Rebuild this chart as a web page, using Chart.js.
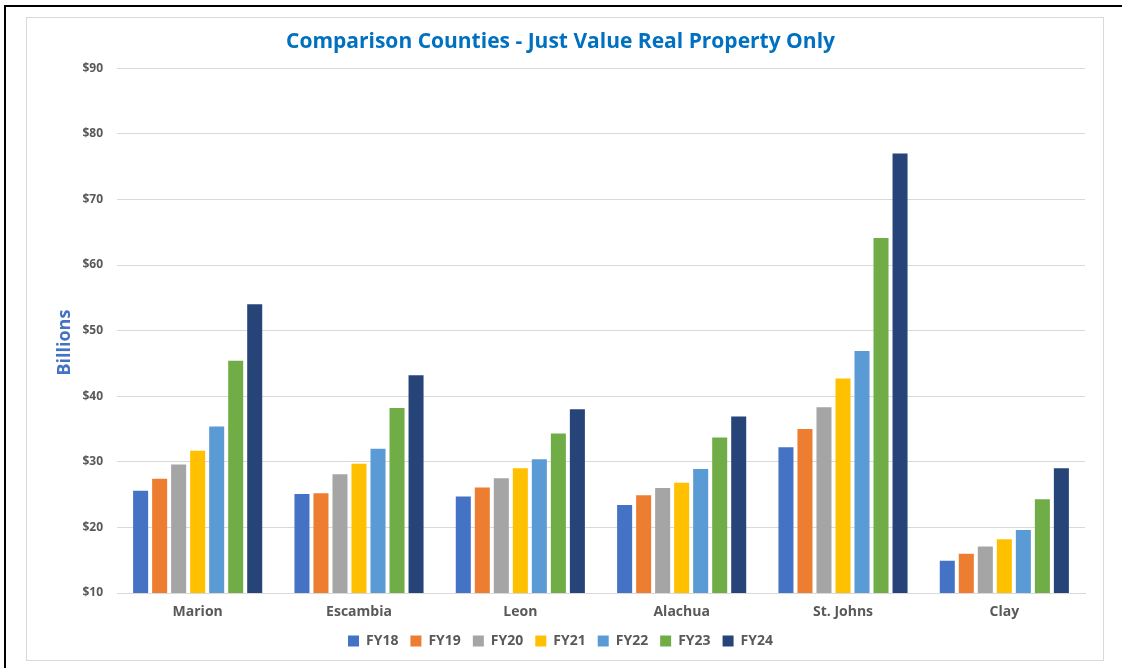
<!DOCTYPE html>
<html>
<head>
<meta charset="utf-8">
<script src="https://cdn.jsdelivr.net/npm/chart.js@4"></script>
<style>
  html, body { margin: 0; padding: 0; background: #fff; }
  .frame {
    position: absolute; left: 4px; top: 5px; width: 1140px; height: 690px;
    border: 2px solid #000; box-sizing: border-box;
  }
  .card {
    position: absolute; left: 26px; top: 17px; width: 1078px; height: 644px;
    border: 1px solid #d9d9d9; box-sizing: border-box; background: #fff;
  }
  .card canvas { display: block; }
</style>
</head>
<body>
<div class="frame"></div>
<div class="card"><canvas id="jv" width="1076" height="642"></canvas></div>
<script>
// Just value, real property only (billions of dollars)
const counties = ["Marion", "Escambia", "Leon", "Alachua", "St. Johns", "Clay"];
const years = ["FY18", "FY19", "FY20", "FY21", "FY22", "FY23", "FY24"];

const fy18 = [25.6, 25.1, 24.7, 23.4, 32.2, 14.9];
const fy19 = [27.4, 25.2, 26.1, 24.9, 35.0, 16.0];
const fy20 = [29.6, 28.1, 27.5, 26.0, 38.3, 17.1];
const fy21 = [31.7, 29.7, 29.0, 26.8, 42.7, 18.2];
const fy22 = [35.4, 32.0, 30.4, 28.9, 46.9, 19.6];
const fy23 = [45.4, 38.2, 34.3, 33.7, 64.1, 24.3];
const fy24 = [54.0, 43.2, 38.0, 36.9, 77.0, 29.0];

const yTicks = [10, 20, 30, 40, 50, 60, 70, 80, 90];

const COLORS = ["#4472C4", "#ED7D31", "#A5A5A5", "#FFC000", "#5B9BD5", "#70AD47", "#264478"];
const GRID = "#d9d9d9";
const LABEL = "#595959";
const FONT = "'Open Sans', 'DejaVu Sans', sans-serif";

const series = [fy18, fy19, fy20, fy21, fy22, fy23, fy24];

// axis caption sits a little below the middle of the value axis
const yCaption = {
  id: "yCaption",
  afterDraw(chart) {
    const y = chart.scales.y;
    const ctx = chart.ctx;
    ctx.save();
    ctx.translate(y.left + 29, (y.top + y.bottom) / 2 + 12);
    ctx.rotate(-Math.PI / 2);
    ctx.fillStyle = "#4472C4";
    ctx.font = "bold 18px " + FONT;
    ctx.textAlign = "center";
    ctx.textBaseline = "middle";
    ctx.fillText("Billions", 0, 0);
    ctx.restore();
  },
};

new Chart(document.getElementById("jv"), {
  type: "bar",
  data: {
    labels: counties,
    datasets: series.map((data, i) => ({
      label: years[i],
      data,
      backgroundColor: COLORS[i],
      borderWidth: 0,
      categoryPercentage: 0.825,
      barPercentage: 0.79,
    })),
  },
  plugins: [yCaption],
  options: {
    responsive: false,
    animation: false,
    layout: { padding: { left: 9, right: 18, top: 0, bottom: 2 } },
    plugins: {
      title: {
        display: true,
        text: "Comparison Counties - Just Value Real Property Only",
        color: "#0070C0",
        font: { family: FONT, size: 21, weight: "bold" },
        padding: { top: 11, bottom: 14 },
      },
      legend: {
        position: "bottom",
        labels: {
          color: LABEL,
          boxWidth: 11,
          boxHeight: 11,
          padding: 12,
          font: { family: FONT, size: 14, weight: "bold" },
        },
      },
      tooltip: { enabled: false },
    },
    scales: {
      x: {
        grid: { display: false },
        border: { display: true, color: GRID, width: 1 },
        ticks: { color: LABEL, padding: 3, font: { family: FONT, size: 14, weight: "bold" } },
        afterFit: (s) => { s.height = 29; },
      },
      y: {
        min: yTicks[0],
        max: yTicks[yTicks.length - 1],
        afterBuildTicks: (s) => { s.ticks = yTicks.map((v) => ({ value: v })); },
        grid: { color: GRID, lineWidth: 1, drawTicks: false },
        border: { display: false },
        ticks: {
          color: LABEL,
          padding: 14,
          font: { family: FONT, size: 12, weight: "bold" },
          callback: (v) => "$" + v,
        },
        afterFit: (s) => { s.width = 81; },
      },
    },
  },
});
</script>
</body>
</html>
